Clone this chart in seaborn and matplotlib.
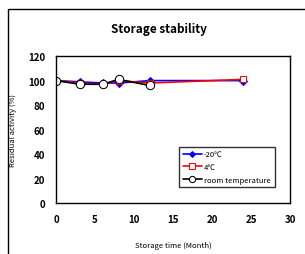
import matplotlib
matplotlib.use("Agg")
import matplotlib.pyplot as plt
import seaborn as sns
import pandas as pd
from matplotlib.patches import Rectangle

months = [0, 3, 6, 8, 12, 24]
minus20 = [100, 99, 98, 98, 100, 100]
plus4 = [100, 98, 97, 100, 98, 101]
room_months = [0, 3, 6, 8, 12]
room = [100, 97, 97, 101, 96]

sns.set_style("white")
plt.rcParams["font.family"] = ["Noto Sans CJK JP", "DejaVu Sans"]
plt.rcParams["text.color"] = "black"
plt.rcParams["axes.labelcolor"] = "black"
plt.rcParams["xtick.color"] = "black"
plt.rcParams["ytick.color"] = "black"

fig = plt.figure(figsize=(3.05, 2.55), dpi=100)
ax = fig.add_axes([0.184, 0.2, 0.767, 0.576])

fig.patches.append(Rectangle((0.026, -0.1), 1.2, 1.061, transform=fig.transFigure,
                             fill=False, edgecolor="black", linewidth=1.0, clip_on=False))

df1 = pd.DataFrame({"x": months, "y": minus20})
df2 = pd.DataFrame({"x": months, "y": plus4})
df3 = pd.DataFrame({"x": room_months, "y": room})

sns.lineplot(data=df1, x="x", y="y", ax=ax, color="blue", marker="D", markersize=4,
             markeredgecolor="blue", linewidth=1.2, label="-20\u2103")
sns.lineplot(data=df2, x="x", y="y", ax=ax, color="red", marker="s", markersize=5,
             markerfacecolor="white", markeredgecolor="red", linewidth=1.2, label="4\u2103")
sns.lineplot(data=df3, x="x", y="y", ax=ax, color="black", marker="o", markersize=6,
             markerfacecolor="white", markeredgecolor="black", linewidth=1.2,
             label="room temperature")

ax.set_xlim(0, 30)
ax.set_ylim(0, 120)
ax.set_xticks(range(0, 31, 5))
ax.set_yticks(range(0, 121, 20))
ax.tick_params(direction="in", length=3, width=1, labelsize=7, pad=8)
for lab in ax.get_xticklabels() + ax.get_yticklabels():
    lab.set_fontweight("bold")
for s in ax.spines.values():
    s.set_color("black")
    s.set_linewidth(1)

ax.set_xlabel("Storage time (Month)", fontsize=5.5, labelpad=12)
ax.set_ylabel("Residual activity (%)", fontsize=5.5, labelpad=8)
fig.text(0.52, 0.885, "Storage stability", ha="center", va="center",
         fontsize=8.5, fontweight="bold", color="black")

leg = ax.legend(loc="lower right", bbox_to_anchor=(0.95, 0.08), fontsize=5.5,
                frameon=True, fancybox=False, edgecolor="black", handlelength=2.5,
                borderpad=0.5, labelspacing=0.6, handletextpad=0.3, markerscale=0.75)
leg.get_frame().set_linewidth(1)

fig.savefig("out.png", dpi=100)
